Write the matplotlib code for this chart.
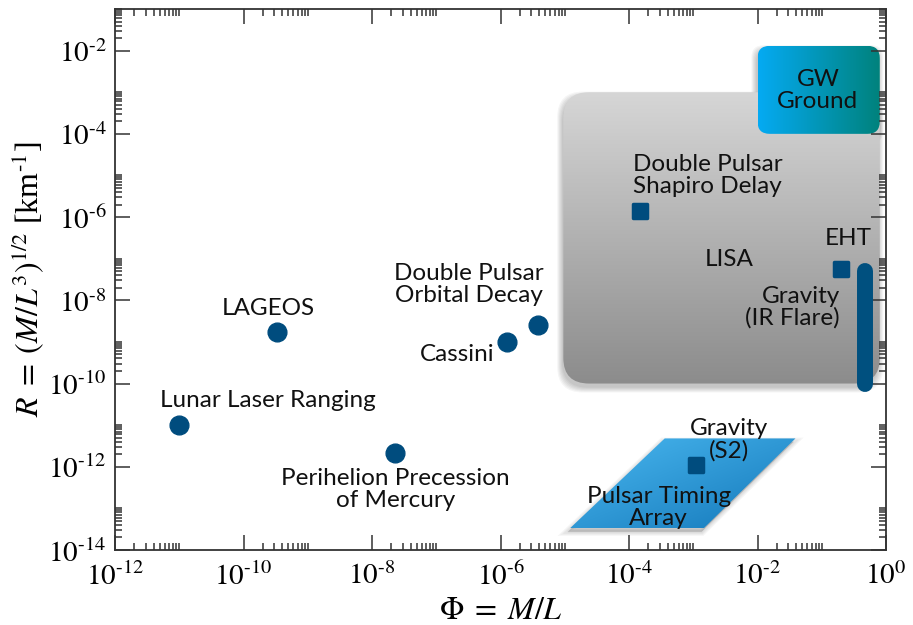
import numpy as np
import matplotlib
matplotlib.use("Agg")
import matplotlib.pyplot as plt
from matplotlib.patches import FancyBboxPatch, Polygon
from matplotlib.markers import MarkerStyle
from matplotlib.ticker import FixedLocator, NullFormatter, FuncFormatter

plt.rcParams['mathtext.fontset'] = 'stix'
plt.rcParams['font.family'] = ['Lato', 'DejaVu Sans']

# --- data (Phi = M/L, R = (M/L^3)^1/2 in km^-1) ---
circle_names = ["Lunar Laser Ranging", "LAGEOS", "Perihelion Precession\nof Mercury",
                "Cassini", "Double Pulsar\nOrbital Decay"]
circle_phi = [1e-11, 3.3e-10, 2.3e-8, 1.25e-6, 3.8e-6]
circle_R = [1e-11, 1.7e-9, 2.2e-12, 1.0e-9, 2.5e-9]

square_names = ["Double Pulsar\nShapiro Delay", "EHT", "Gravity\n(S2)"]
square_phi = [1.5e-4, 0.2, 1.1e-3]
square_R = [1.4e-6, 5.8e-8, 1.1e-12]

ir_flare_phi = [0.47, 0.47]
ir_flare_R = [5e-8, 1e-10]

lisa_phi = [9.5e-6, 0.8]
lisa_R = [1e-10, 1e-3]
gw_phi = [1e-2, 0.8]
gw_R = [1e-4, 1.3e-2]
pta_phi = [1.2e-5, 1.45e-3, 0.039, 3.6e-4]
pta_R = [3.3e-14, 3.3e-14, 4.8e-12, 4.8e-12]

xlim = (1e-12, 1e0)
ylim = (1e-14, 1e-1)

# label anchors: (text, phi, R, ha)
labels = [
    ("LAGEOS", 2.4e-10, 6.5e-9, 'center'),
    ("Lunar Laser Ranging", 2.4e-10, 4e-11, 'center'),
    ("Perihelion Precession\nof Mercury", 2.3e-8, 2.8e-13, 'center'),
    ("Cassini", 2.1e-7, 5e-10, 'center'),
    ("Double Pulsar\nOrbital Decay", 3.2e-7, 2.4e-8, 'center'),
    ("Double Pulsar\nShapiro Delay", 1.15e-4, 1e-5, 'left'),
    ("LISA", 3.6e-3, 9.5e-8, 'center'),
    ("EHT", 0.26, 3.1e-7, 'center'),
    ("Gravity\n(IR Flare)", 0.19, 6.8e-9, 'right'),
    ("GW\nGround", 0.087, 1.1e-3, 'center'),
    ("Gravity\n(S2)", 3.6e-3, 4.4e-12, 'center'),
    ("Pulsar Timing\nArray", 2.9e-4, 1.07e-13, 'center'),
]

W, H = 913, 625
fig = plt.figure(figsize=(W / 100, H / 100), dpi=100)
rect = [115 / W, 75 / H, 771 / W, 541 / H]

# background axes in log10 units for the shaded regions
bg = fig.add_axes(rect, zorder=0)
bg.set_xlim(np.log10(xlim))
bg.set_ylim(np.log10(ylim))
bg.axis('off')
aspect = (771 / 12) / (541 / 13)


def rounded_gradient(phi, R, rad, img, shadow=True):
    x0, x1 = np.log10(phi)
    y0, y1 = np.log10(R)
    if shadow:
        for i in range(6):
            s = FancyBboxPatch((x0 - 0.02, y0 - 0.1), x1 - x0, y1 - y0,
                               boxstyle=f"round,pad={0.015 * i},rounding_size={rad}",
                               mutation_aspect=aspect, fc='k', ec='none',
                               alpha=0.04, zorder=1)
            bg.add_patch(s)
    p = FancyBboxPatch((x0, y0), x1 - x0, y1 - y0,
                       boxstyle=f"round,pad=0,rounding_size={rad}",
                       mutation_aspect=aspect, fc='none', ec='none', zorder=2)
    bg.add_patch(p)
    im = bg.imshow(img, extent=[x0, x1, y0, y1], aspect='auto',
                   interpolation='bilinear', zorder=2)
    im.set_clip_path(p)


def hex2rgb(h):
    return np.array([int(h[i:i + 2], 16) / 255 for i in (1, 3, 5)])


# LISA grey box, vertical gradient
t = np.linspace(0, 1, 100)[:, None, None]
grey = hex2rgb('#d6d6d6') * (1 - t) + hex2rgb('#8c8c8c') * t
rounded_gradient(lisa_phi, lisa_R, 0.4, grey)

# GW ground box, horizontal gradient
t = np.linspace(0, 1, 100)[None, :, None]
blue = hex2rgb('#05aaf2') * (1 - t) + hex2rgb('#00827c') * t
rounded_gradient(gw_phi, gw_R, 0.19, blue)

# PTA parallelogram, diagonal gradient
verts = np.column_stack([np.log10(pta_phi), np.log10(pta_R)])
for i in range(5):
    sh = Polygon(verts + [-0.03, -0.08], closed=True, fc='k', ec='k',
                 lw=1.5 * i, alpha=0.035, zorder=1)
    bg.add_patch(sh)
poly = Polygon(verts, closed=True, fc='none', ec='none', zorder=2)
bg.add_patch(poly)
u = np.linspace(0, 1, 100)[None, :]
v = np.linspace(0, 1, 60)[:, None]
g = ((u + v) / 2)[:, :, None]
pta_img = hex2rgb('#4ab8f0') * (1 - g) + hex2rgb('#1478ba') * g
im = bg.imshow(pta_img, extent=[verts[:, 0].min(), verts[:, 0].max(),
                                verts[:, 1].min(), verts[:, 1].max()],
               aspect='auto', interpolation='bilinear', zorder=2)
im.set_clip_path(poly)

# main log-log axes
ax = fig.add_axes(rect, zorder=1)
ax.patch.set_alpha(0)
ax.set_xscale('log')
ax.set_yscale('log')
ax.set_xlim(xlim)
ax.set_ylim(ylim)

mark_col = '#004c7e'
ax.plot(circle_phi, circle_R, 'o', ms=13.5, color=mark_col, ls='none', zorder=4)
ax.plot(square_phi, square_R, ls='none', marker=MarkerStyle('s', joinstyle='round'),
        ms=9.5, mew=2.5, color=mark_col, mec=mark_col, zorder=4)
ax.plot(ir_flare_phi, ir_flare_R, lw=11.5, color='#00507f',
        solid_capstyle='round', zorder=4)

for txt, xx, yy, ha in labels:
    ax.text(xx, yy, txt, ha=ha, va='center', fontsize=17.5, color='#111111',
            linespacing=1.05, zorder=5)

# ticks: majors every two decades, minors 2..10 above each major
x_major = [10.0 ** e for e in range(-12, 1, 2)]
y_major = [10.0 ** e for e in range(-14, -1, 2)]
x_minor = [k * m for m in x_major[:-1] for k in range(2, 11)]
y_minor = [k * m for m in y_major for k in range(2, 11)]
fmt = FuncFormatter(lambda val, pos: '$10^{\u2010%d}$' % abs(round(np.log10(val)))
                    if val < 1 else '$10^{0}$')
ax.xaxis.set_major_locator(FixedLocator(x_major))
ax.yaxis.set_major_locator(FixedLocator(y_major))
ax.xaxis.set_minor_locator(FixedLocator(x_minor))
ax.yaxis.set_minor_locator(FixedLocator(y_minor))
ax.xaxis.set_major_formatter(fmt)
ax.yaxis.set_major_formatter(fmt)
ax.xaxis.set_minor_formatter(NullFormatter())
ax.yaxis.set_minor_formatter(NullFormatter())
ax.tick_params(which='both', direction='in', top=True, right=True,
               color='#333333', labelsize=21, width=1.1)
ax.tick_params(which='major', length=11, pad=6)
ax.tick_params(which='minor', length=5)
ax.tick_params(axis='x', pad=8)
for s in ax.spines.values():
    s.set_linewidth(1.3)
    s.set_color('#333333')

ax.set_xlabel(r'$\Phi\;=\;M/L$', fontsize=23, labelpad=4)
ax.set_ylabel('$R\\;=\\;(M/L^3)^{1/2}$ [km$^{\u2010 1}$]', fontsize=23,
              labelpad=2, family='Liberation Serif')

fig.savefig('out.png', dpi=100)
